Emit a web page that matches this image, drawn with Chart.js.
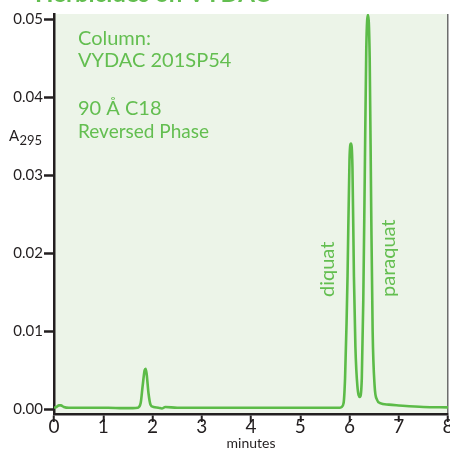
<!DOCTYPE html>
<html>
<head>
<meta charset="utf-8">
<script src="https://cdn.jsdelivr.net/npm/chart.js@4/dist/chart.umd.min.js"></script>
<style>
  html, body { margin: 0; padding: 0; background: #ffffff; }
  canvas { display: block; }
</style>
</head>
<body>
<canvas id="c" width="450" height="449"></canvas>
<script>
// ---- data ----
const times = [
  0.00, 0.05, 0.10, 0.14, 0.20, 0.30, 0.50, 0.80, 1.10, 1.40, 1.60, 1.70,
  1.76, 1.80, 1.84, 1.86, 1.88, 1.92, 1.96, 2.02, 2.12, 2.19, 2.26, 2.50,
  3.00, 3.50, 4.00, 4.50, 5.00, 5.50, 5.80, 5.84, 5.88, 5.91, 5.94, 5.96,
  6.00, 6.03, 6.06, 6.09, 6.12, 6.16, 6.21, 6.25, 6.28, 6.31, 6.34, 6.375,
  6.41, 6.44, 6.47, 6.51, 6.56, 6.62, 6.80, 7.00, 7.50, 8.00
];
const absorbance = [
  0.0002, 0.0003, 0.0005, 0.0005, 0.0003, 0.0002, 0.0002, 0.0002, 0.0002, 0.00015, 0.00015, 0.0002,
  0.0008, 0.0030, 0.0050, 0.0052, 0.0046, 0.0020, 0.0006, 0.0003, 0.0002, 0.0001, 0.0003, 0.0002,
  0.0002, 0.0002, 0.0002, 0.0002, 0.0002, 0.0002, 0.0002, 0.0003, 0.0008, 0.0040, 0.0110, 0.0170,
  0.0320, 0.0341, 0.0310, 0.0170, 0.0080, 0.0030, 0.0016, 0.0040, 0.0140, 0.0300, 0.0460, 0.0506,
  0.0450, 0.0260, 0.0100, 0.0030, 0.0012, 0.0008, 0.0006, 0.0005, 0.0003, 0.00025
];
const xTicks = [0, 1, 2, 3, 4, 5, 6, 7, 8];
const yTicks = [0.00, 0.01, 0.02, 0.03, 0.04, 0.05];
const xTitle = 'minutes';
const yTitleMain = 'A';
const yTitleSub = '295';
const chartTitle = 'Herbicides on VYDAC';
const noteLines = ['Column:', 'VYDAC 201SP54', '', '90 Å C18', 'Reversed Phase'];
const peakLabels = ['diquat', 'paraquat'];

const GREEN = '#5cbb48';
const TEXT_GREEN = '#63be50';
const BG = '#ecf4e8';
const AXIS = '#231f20';

const points = times.map((t, i) => ({ x: t, y: absorbance[i] }));

const decor = {
  id: 'decor',
  beforeDraw(chart) {
    const { ctx, chartArea: a } = chart;
    ctx.save();
    ctx.fillStyle = BG;
    ctx.fillRect(a.left, a.top, a.right - a.left, a.bottom - a.top);
    ctx.restore();
  },
  afterDraw(chart) {
    const ctx = chart.ctx;
    ctx.save();
    // clipped title at very top
    ctx.fillStyle = TEXT_GREEN;
    ctx.font = 'bold 24px Lato';
    ctx.textBaseline = 'alphabetic';
    ctx.textAlign = 'left';
    ctx.fillText(chartTitle, 35, 2, 250);

    // column note
    ctx.font = '20px Lato';
    ctx.fillText(noteLines[0], 78, 45);
    ctx.fillText(noteLines[1], 78, 67);
    ctx.fillText(noteLines[3], 78, 115);
    ctx.font = '19px Lato';
    ctx.fillText(noteLines[4], 78, 138);

    // peak labels (rotated)
    ctx.font = '20px Lato';
    ctx.save();
    ctx.translate(334, 297);
    ctx.rotate(-Math.PI / 2);
    ctx.fillText(peakLabels[0], 0, 0);
    ctx.restore();
    ctx.save();
    ctx.translate(395, 297);
    ctx.rotate(-Math.PI / 2);
    ctx.fillText(peakLabels[1], 0, 0);
    ctx.restore();

    // y axis title with subscript
    ctx.fillStyle = AXIS;
    ctx.font = '15px Lato';
    ctx.fillText(yTitleMain, 9, 141);
    ctx.font = '13px Lato';
    ctx.fillText(yTitleSub, 19.5, 145);
    ctx.restore();
  }
};

new Chart(document.getElementById('c'), {
  type: 'line',
  data: {
    datasets: [{
      data: points,
      borderColor: GREEN,
      borderWidth: 2.6,
      pointRadius: 0,
      fill: false,
      cubicInterpolationMode: 'monotone'
    }]
  },
  options: {
    responsive: false,
    animation: false,
    devicePixelRatio: 1,
    layout: { padding: { top: 14, right: 2, left: 0, bottom: 0 } },
    plugins: { legend: { display: false }, tooltip: { enabled: false }, title: { display: false } },
    scales: {
      x: {
        type: 'linear',
        min: 0, max: 8,
        afterBuildTicks(scale) { scale.ticks = xTicks.map(v => ({ value: v })); },
        afterFit(scale) { scale.height = 35; scale.paddingLeft = 0; scale.paddingRight = 0; },
        ticks: {
          color: AXIS,
          font: { family: 'Lato', size: 19 },
          padding: -7,
          maxRotation: 0,
          autoSkip: false,
          callback: v => String(v)
        },
        grid: {
          color: c => (c.tick && c.tick.value === 8) ? '#6d6d6d' : 'rgba(0,0,0,0)',
          lineWidth: 1.5,
          tickColor: AXIS,
          tickLength: 8,
          tickWidth: 2
        },
        border: { color: AXIS, width: 2.5 },
        title: {
          display: true,
          text: xTitle,
          color: AXIS,
          font: { family: 'Lato', size: 14 },
          padding: { top: 0, bottom: -3 }
        }
      },
      y: {
        min: -0.0006, max: 0.0507,
        afterBuildTicks(scale) { scale.ticks = yTicks.map(v => ({ value: v })); },
        afterFit(scale) { scale.width = 54; },
        ticks: {
          color: AXIS,
          font: { family: 'Lato', size: 15 },
          padding: 1,
          callback: v => Number(v).toFixed(2)
        },
        grid: {
          color: 'rgba(0,0,0,0)',
          tickColor: AXIS,
          tickLength: 10,
          tickWidth: 2.5
        },
        border: { color: AXIS, width: 2.5 }
      }
    }
  },
  plugins: [decor]
});
</script>
</body>
</html>
